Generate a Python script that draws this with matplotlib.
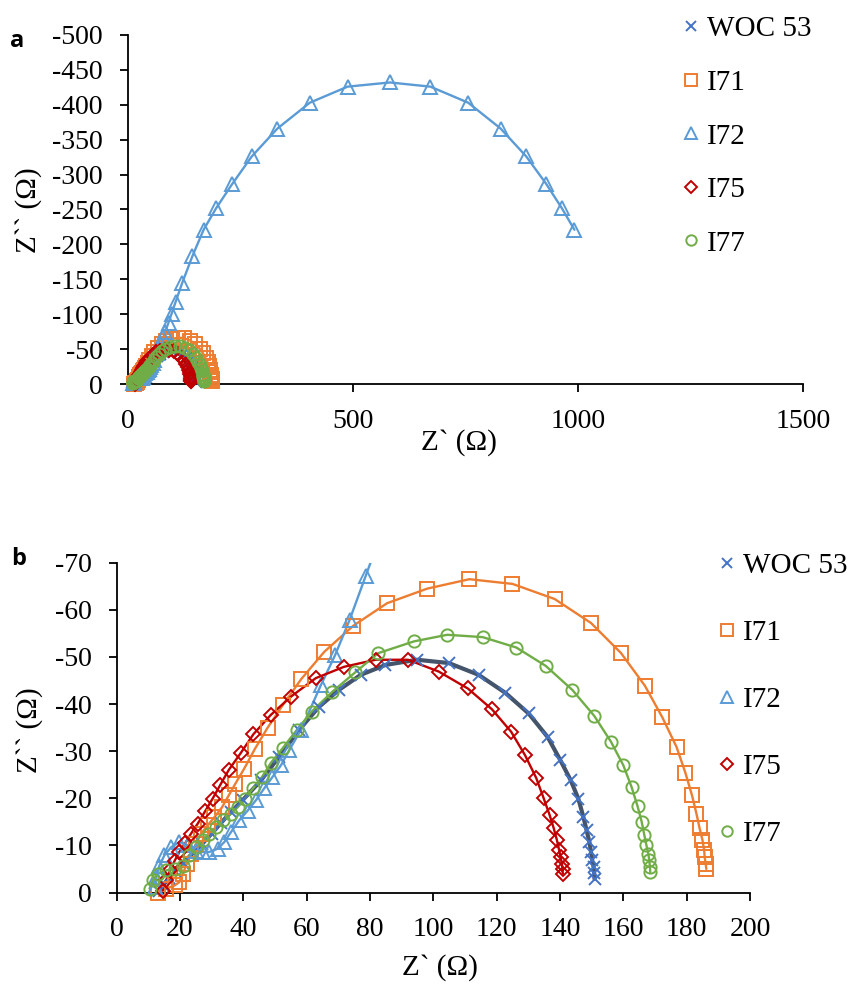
import numpy as np
import matplotlib
matplotlib.use("Agg")
import matplotlib.pyplot as plt
from matplotlib.lines import Line2D

plt.rcParams["font.family"] = ["Liberation Serif", "DejaVu Serif"]
plt.rcParams["axes.unicode_minus"] = False

# Impedance spectra: real part Z' and -Z'' (ohm), ordered from low Z' to high
series_names = ["WOC 53", "I71", "I72", "I75", "I77"]

woc53_re = [13.5, 14.5, 16.5, 18.5, 21.0, 24.0, 27.0, 30.0, 33.0, 36.0, 39.8, 45.6,
            51.3, 57.6, 63.9, 70.2, 77.1, 84.9, 94.9, 104.9, 114.3, 122.7, 130.1,
            136.1, 140.1, 143.4, 145.8, 147.4, 148.4, 149.3, 149.8, 150.2, 150.6,
            150.8, 150.9]
woc53_negim = [0.3, 1.5, 3.0, 4.5, 6.3, 8.3, 10.3, 12.5, 14.8, 17.0, 19.6, 23.8,
               28.8, 34.5, 39.4, 43.0, 46.2, 48.3, 49.4, 48.7, 46.2, 42.4, 38.0,
               33.0, 28.1, 23.8, 19.9, 16.0, 13.2, 10.7, 8.6, 6.8, 5.4, 4.1, 2.9]

i71_re = [13.0, 15.7, 18.3, 19.8, 20.9, 22.2, 23.5, 25.1, 26.7, 28.8, 30.9, 33.3,
          35.4, 37.5, 40.3, 43.6, 47.7, 52.6, 58.3, 65.6, 74.7, 85.4, 98.1, 111.4,
          125.0, 138.3, 149.8, 159.3, 166.8, 172.3, 176.8, 179.6, 181.7, 183.1,
          184.1, 185.0, 185.5, 185.7, 186.0, 186.2]
i71_negim = [0.0, 0.8, 1.5, 2.2, 4.0, 6.1, 8.2, 10.4, 12.5, 14.3, 16.0, 18.1, 20.6,
             23.1, 26.3, 30.4, 35.0, 39.9, 45.3, 51.1, 56.6, 61.4, 64.5, 66.5, 65.5,
             62.3, 57.2, 50.8, 43.9, 37.2, 30.9, 25.4, 20.6, 16.7, 13.6, 11.1, 9.1,
             7.5, 6.1, 5.0]

i72_re = [12.0, 12.5, 13.5, 15.1, 17.2, 19.8, 22.5, 25.1, 27.2, 29.3, 31.9, 34.0,
          36.1, 38.7, 41.4, 44.0, 46.6, 49.2, 51.9, 54.5, 58.2, 64.5, 69.0, 73.6,
          78.6, 82.9, 90.0, 97.0, 106.0, 120.0, 143.0, 168.0, 196.0, 231.0, 275.0,
          332.0, 404.0, 488.0, 582.0, 672.0, 756.0, 828.0, 885.0, 929.0, 964.0,
          992.0]
i72_negim = [1.1, 3.3, 5.7, 7.9, 9.6, 10.7, 10.0, 8.9, 8.6, 8.6, 9.3, 10.7, 12.8,
             15.3, 17.4, 19.6, 22.1, 24.5, 27.0, 30.2, 34.5, 44.0, 50.4, 57.9, 67.1,
             75.0, 88.0, 101.0, 118.0, 144.0, 183.0, 221.0, 252.0, 286.0, 326.0,
             366.0, 403.0, 426.0, 432.0, 426.0, 403.0, 366.0, 326.0, 287.0, 252.0,
             221.0]

i75_re = [14.6, 15.7, 16.9, 18.3, 19.8, 21.7, 23.5, 25.6, 28.0, 30.3, 32.7, 35.4,
          39.3, 43.2, 48.7, 55.1, 62.9, 71.8, 81.8, 92.0, 101.7, 110.9, 118.5,
          124.6, 129.0, 132.5, 134.8, 136.7, 138.0, 139.0, 139.7, 140.2, 140.6,
          140.8, 140.9]
i75_negim = [0.4, 2.6, 4.7, 6.7, 8.6, 10.5, 12.5, 14.6, 17.3, 19.9, 22.8, 26.0,
             29.7, 33.6, 37.7, 41.6, 45.5, 47.9, 49.4, 49.4, 46.9, 43.3, 38.9, 34.1,
             29.1, 24.3, 20.1, 16.5, 13.7, 11.2, 9.1, 7.5, 6.1, 5.0, 4.0]

i77_re = [10.4, 11.4, 13.0, 15.7, 18.3, 20.9, 23.0, 25.1, 27.2, 29.3, 31.4, 33.7,
          36.1, 38.2, 40.4, 43.1, 45.9, 48.7, 52.4, 56.9, 61.6, 68.1, 75.3, 82.6,
          93.9, 104.4, 115.6, 126.2, 135.5, 143.9, 150.8, 156.1, 160.0, 162.6,
          164.5, 165.8, 166.6, 167.3, 167.9, 168.2, 168.4, 168.5]
i77_negim = [0.8, 2.6, 4.0, 4.7, 5.0, 5.7, 7.9, 9.6, 11.1, 12.5, 13.9, 15.3, 16.7,
             18.1, 19.9, 22.1, 24.5, 27.5, 30.6, 34.5, 38.4, 42.6, 46.7, 50.8, 53.3,
             54.7, 54.2, 52.0, 48.1, 43.0, 37.5, 32.0, 27.0, 22.4, 18.3, 15.0, 12.3,
             10.0, 8.2, 6.8, 5.5, 4.3]

data = [(woc53_re, woc53_negim), (i71_re, i71_negim), (i72_re, i72_negim),
        (i75_re, i75_negim), (i77_re, i77_negim)]

marker_colors = ["#4472C4", "#ED7D31", "#5B9BD5", "#C00000", "#70AD47"]
line_colors = ["#44546A", "#ED7D31", "#5B9BD5", "#C00000", "#70AD47"]
line_widths = [3.0, 1.7, 1.7, 1.7, 1.7]
markers = ["x", "s", "^", "D", "o"]
marker_sizes = [8.5, 9.5, 9.5, 7.0, 8.8]

TICK_FS = 20
LABEL_FS = 21


def draw_panel(ax, xmax, ymax, xstep, ystep):
    ax.set_xlim(0, xmax)
    ax.set_ylim(0, -ymax)
    for (zr, nzi), mc, lc, lw, mk, ms in zip(data, marker_colors, line_colors,
                                             line_widths, markers, marker_sizes):
        zr = np.asarray(zr)
        zi = -np.asarray(nzi)
        ax.plot(zr, zi, color=lc, lw=lw, solid_capstyle="round", zorder=2)
        inside = (zr <= xmax) & (-zi <= ymax)
        ax.plot(zr[inside], zi[inside], ls="none", marker=mk, ms=ms,
                mfc="none", mec=mc, mew=1.4, clip_on=False, zorder=3)
    ax.set_xticks(np.arange(0, xmax + 1, xstep))
    ax.set_yticks(-np.arange(0, ymax + 1, ystep))
    for side in ("top", "right"):
        ax.spines[side].set_visible(False)
    for side in ("left", "bottom"):
        ax.spines[side].set_linewidth(1.3)
    ax.tick_params(direction="out", length=6, width=1.3, labelsize=TICK_FS,
                   pad=12)
    ax.set_xlabel("Z` (Ω)", fontsize=LABEL_FS, va="center")
    ax.set_ylabel("Z`` (Ω)", fontsize=LABEL_FS, va="center")


def add_legend(ax, anchor, spacing):
    handles = [Line2D([], [], ls="none", marker=mk, ms=ms * 0.85, mfc="none",
                      mec=mc, mew=1.4)
               for mk, ms, mc in zip(markers, marker_sizes, marker_colors)]
    ax.legend(handles, series_names, loc="upper left", bbox_to_anchor=anchor,
              bbox_transform=fig.transFigure, frameon=False, fontsize=LABEL_FS,
              handlelength=0.6, handletextpad=0.25, labelspacing=spacing,
              borderpad=0, borderaxespad=0)


W, H = 850, 985
fig = plt.figure(figsize=(8.5, 9.85), dpi=100)

# panel a: full spectra
ax_a = fig.add_axes([128 / W, 1 - 384 / H, (803 - 128) / W, (384 - 35) / H])
draw_panel(ax_a, 1500, 500, 500, 50)
ax_a.xaxis.set_label_coords(0.49, -0.169)
ax_a.yaxis.set_label_coords(-0.148, 0.499)
add_legend(ax_a, (682 / W, 1 - 16 / H), 0.93)

# panel b: high-frequency region
ax_b = fig.add_axes([116.6 / W, 1 - 892.5 / H, (750 - 116.6) / W,
                     (892.5 - 562.7) / H])
draw_panel(ax_b, 200, 70, 20, 10)
ax_b.xaxis.set_label_coords(0.511, -0.229)
ax_b.yaxis.set_label_coords(-0.138, 0.493)
add_legend(ax_b, (718 / W, 1 - 553 / H), 1.39)

fig.text(17 / W, 1 - 41 / H, "a", fontsize=17, fontweight="bold",
         family="Open Sans", ha="center", va="center")
fig.text(19 / W, 1 - 559 / H, "b", fontsize=17, fontweight="bold",
         family="Open Sans", ha="center", va="center")

fig.savefig("out.png", dpi=100)
